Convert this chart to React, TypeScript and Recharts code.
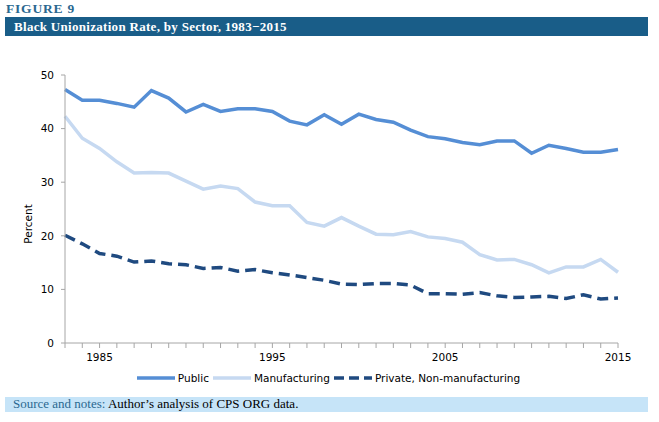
import React from 'react';
import { LineChart, Line, XAxis, YAxis } from 'recharts';

const years = [1983,1984,1985,1986,1987,1988,1989,1990,1991,1992,1993,1994,1995,1996,1997,1998,1999,2000,2001,2002,2003,2004,2005,2006,2007,2008,2009,2010,2011,2012,2013,2014,2015];
const publicRate = [47.3,45.3,45.3,44.7,44.0,47.1,45.7,43.1,44.5,43.2,43.7,43.7,43.2,41.4,40.7,42.6,40.8,42.7,41.7,41.2,39.7,38.5,38.1,37.4,37.0,37.7,37.7,35.4,36.9,36.3,35.6,35.6,36.1];
const manufacturingRate = [42.3,38.2,36.3,33.8,31.7,31.8,31.7,30.2,28.7,29.3,28.8,26.3,25.6,25.6,22.5,21.8,23.4,21.8,20.3,20.2,20.8,19.8,19.5,18.8,16.5,15.5,15.6,14.6,13.1,14.2,14.2,15.6,13.2];
const privateRate = [20.1,18.5,16.7,16.2,15.1,15.3,14.8,14.6,13.9,14.1,13.4,13.7,13.1,12.7,12.2,11.7,11.0,10.9,11.1,11.1,10.8,9.2,9.2,9.1,9.4,8.8,8.5,8.6,8.7,8.3,9.0,8.2,8.4];
const xLabels = [1985, 1995, 2005, 2015];
const yTicks = [0, 10, 20, 30, 40, 50];

const data = years.map((y, i) => ({
  year: y,
  Public: publicRate[i],
  Manufacturing: manufacturingRate[i],
  Private: privateRate[i],
}));

const C_PUBLIC = '#558ed5';
const C_MANU = '#c6d9f1';
const C_PRIV = '#1f4a80';
const SANS = '"DejaVu Sans", Verdana, sans-serif';
const SERIF = '"Liberation Serif", "Times New Roman", serif';

const legendItems = [
  { key: 'Public', label: 'Public', color: C_PUBLIC, dash: undefined as string | undefined },
  { key: 'Manufacturing', label: 'Manufacturing', color: C_MANU, dash: undefined as string | undefined },
  { key: 'Private', label: 'Private, Non-manufacturing', color: C_PRIV, dash: '10 5' },
];

export default function App() {
  return (
    <div style={{ position: 'absolute', left: 0, top: 0, width: 659, height: 422, background: '#fff' }}>
      <div style={{ position: 'absolute', left: 6, top: 1, fontFamily: SERIF, fontWeight: 'bold', fontSize: 13.5, color: '#2a6890', letterSpacing: 0.8 }}>
        FIGURE 9
      </div>
      <div style={{ position: 'absolute', left: 5, top: 17, width: 643, height: 19, background: '#195d88' }}>
        <div style={{ position: 'absolute', left: 9, top: 2, fontFamily: SERIF, fontWeight: 'bold', fontSize: 13, letterSpacing: 0.3, color: '#fff', whiteSpace: 'nowrap' }}>
          Black Unionization Rate, by Sector, 1983−2015
        </div>
      </div>
      <div style={{ position: 'absolute', left: 5, top: 397, width: 643, height: 15, background: '#c6e4f8' }}>
        <div style={{ position: 'absolute', left: 8, top: -1, fontFamily: SERIF, fontSize: 13, color: '#000', whiteSpace: 'nowrap' }}>
          <span style={{ color: '#2a6890' }}>Source and notes:</span> Author’s analysis of CPS ORG data.
        </div>
      </div>
      <div style={{ position: 'absolute', left: 28, top: 224, transform: 'translate(-50%, -50%) rotate(-90deg)', fontFamily: SANS, fontSize: 10.5, color: '#000', whiteSpace: 'nowrap' }}>
        Percent
      </div>
      <div style={{ position: 'absolute', left: 0, top: 372, width: 659, display: 'flex', justifyContent: 'center', alignItems: 'center', fontFamily: SANS, fontSize: 10.5, color: '#000' }}>
        {legendItems.map((it) => (
          <div key={it.key} style={{ display: 'flex', alignItems: 'center', marginRight: 3 }}>
            <svg width={40} height={8} style={{ marginRight: 2 }}>
              <line x1={1} y1={4} x2={39} y2={4} stroke={it.color} strokeWidth={3.5} strokeDasharray={it.dash} />
            </svg>
            <span>{it.label}</span>
          </div>
        ))}
      </div>
      <div style={{ position: 'absolute', left: 0, top: 0 }}>
        <LineChart width={659} height={422} data={data} margin={{ top: 75, right: 41, bottom: 49, left: 0 }}>
          <XAxis
            dataKey="year"
            type="number"
            domain={[1983, 2015]}
            ticks={years}
            interval={0}
            tickFormatter={(v: number) => (xLabels.includes(v) ? String(v) : '')}
            tick={{ fontFamily: SANS, fontSize: 10.5, fill: '#000' }}
            stroke="#a6a6a6"
            tickSize={5}
            tickMargin={6}
            height={30}
          />
          <YAxis
            domain={[0, 50]}
            ticks={yTicks}
            interval={0}
            width={65}
            tick={{ fontFamily: SANS, fontSize: 10.5, fill: '#000' }}
            stroke="#a6a6a6"
            tickSize={4}
            tickMargin={7}
          />
          <Line type="linear" dataKey="Public" stroke={C_PUBLIC} strokeWidth={3.5} dot={false} isAnimationActive={false} />
          <Line type="linear" dataKey="Manufacturing" stroke={C_MANU} strokeWidth={3.5} dot={false} isAnimationActive={false} />
          <Line type="linear" dataKey="Private" stroke={C_PRIV} strokeWidth={3.5} strokeDasharray="11 6" dot={false} isAnimationActive={false} />
        </LineChart>
      </div>
    </div>
  );
}
